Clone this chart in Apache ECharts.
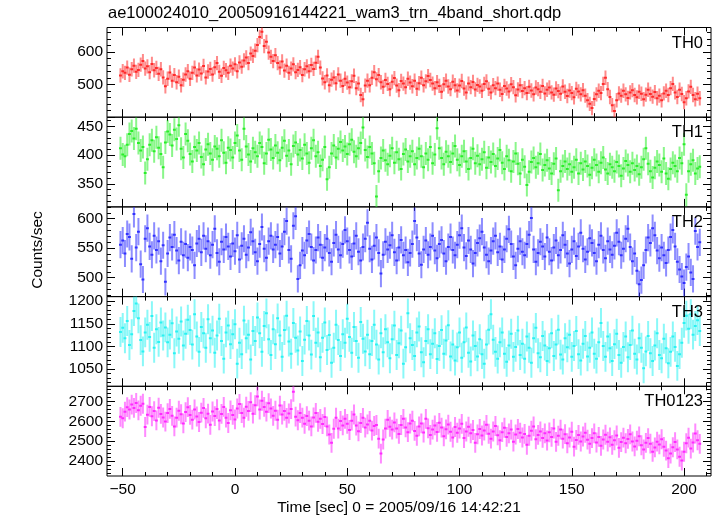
<!DOCTYPE html>
<html>
<head>
<meta charset="utf-8">
<script src="https://cdn.jsdelivr.net/npm/echarts@6/dist/echarts.min.js"></script>
<style>html,body{margin:0;padding:0;background:#fff}#c{width:717px;height:516px}</style>
</head>
<body>
<div id="c"></div>
<script>
// ---- data ----
const titleText = 'ae100024010_20050916144221_wam3_trn_4band_short.qdp';
const xTitle = 'Time [sec] 0 = 2005/09/16 14:42:21';
const yTitle = 'Counts/sec';
const panelNames = ['TH0', 'TH1', 'TH2', 'TH3', 'TH0123'];
const binStart = -51;   // time of first bin centre (s)
const binWidth = 1;     // bin width (s)
const xTicks = [-50, 0, 50, 100, 150, 200];
const xMinorTicks = [-50,-40,-30,-20,-10,0,10,20,30,40,50,60,70,80,90,100,110,120,130,140,150,160,170,180,190,200,210];
const yTicksTH0 = [400, 500, 600];
const yTicksTH1 = [350, 400, 450];
const yTicksTH2 = [500, 550, 600];
const yTicksTH3 = [1050, 1100, 1150, 1200];
const yTicksTH0123 = [2400, 2500, 2600, 2700];
const errTH = [22, 20, 23, 33, 50];

const th0 = [
528,541,536,552,530,547,558,539,545,561,
572,549,556,538,563,544,551,533,547,522,
495,518,537,512,529,507,524,498,515,531,
541,518,536,552,528,546,534,557,522,540,
548,531,553,566,539,527,551,544,536,558,
549,562,541,568,555,574,583,566,595,588,
604,621,646,662,618,631,598,585,572,590,
566,552,571,543,558,536,549,562,538,545,
553,529,547,556,541,560,548,567,585,552,
519,507,528,498,515,522,504,531,512,496,
518,506,492,510,527,489,503,468,455,497,
512,498,521,538,516,529,507,493,514,502,
486,509,520,497,483,511,503,492,518,506,
495,512,487,504,521,498,510,526,514,503,
489,507,496,478,501,512,494,486,509,498,
482,497,511,488,476,503,492,508,485,499,
494,481,502,510,487,476,498,489,503,484,
471,496,488,479,501,492,467,485,498,480,
489,474,493,482,470,491,486,478,496,473,
484,491,476,469,488,480,472,494,478,465,
482,474,461,487,479,470,483,466,452,441,
428,456,470,481,474,502,521,486,462,437,
419,452,473,466,481,470,459,476,483,468,
461,478,472,455,469,484,471,463,477,458,
466,452,473,481,468,489,502,476,462,484,
471,446,458,479,493,468,455,472,458];

const th1 = [
412,401,398,418,437,442,429,446,421,408,
414,369,393,418,426,407,431,413,402,379,
422,441,436,417,444,428,452,411,396,437,
425,402,389,414,408,421,397,384,410,419,
403,392,415,411,398,426,404,387,413,409,
396,421,434,408,392,446,415,401,389,412,
405,398,421,414,386,403,427,410,395,417,
404,391,413,425,399,408,384,416,422,401,
409,394,418,403,387,412,426,398,405,381,
392,414,358,379,403,417,396,411,423,408,
415,402,419,427,406,398,412,421,448,409,
397,414,403,386,328,372,395,408,391,384,
399,412,387,405,393,376,402,410,389,398,
407,384,395,411,398,379,403,392,414,386,
401,447,412,395,384,406,398,388,403,416,
392,383,398,407,389,376,395,411,386,399,
384,393,405,378,396,388,402,381,394,409,
387,376,398,391,372,389,403,385,368,392,
380,348,371,388,395,379,386,402,374,383,
391,377,368,385,394,339,372,381,389,376,
384,371,379,392,368,386,375,389,381,366,
378,392,383,371,387,396,375,368,384,379,
372,388,381,364,377,390,383,371,386,374,
381,367,379,393,412,385,372,361,378,389,
383,371,394,368,359,376,387,381,372,395,
386,419,331,372,384,391,368,377,380];

const th2 = [
556,563,541,574,569,532,608,551,578,523,
497,566,584,553,539,571,547,562,528,555,
493,541,568,552,573,546,529,561,538,557,
534,552,547,521,558,566,543,571,549,562,
538,556,583,542,527,561,548,569,553,536,
558,545,572,531,554,566,539,551,577,562,
543,528,557,586,549,534,562,571,548,556,
569,541,553,578,596,547,532,588,604,498,
521,546,538,563,574,552,529,547,568,556,
534,551,566,542,527,559,573,548,538,557,
581,562,547,536,558,571,544,529,552,566,
593,549,531,554,568,542,507,539,561,548,
555,572,543,529,551,564,538,547,526,542,
557,596,568,541,522,548,563,539,552,571,
546,533,557,564,541,528,552,569,547,538,
556,572,584,551,537,563,548,524,542,559,
567,578,551,539,528,546,562,571,543,553,
531,548,566,582,557,536,521,549,562,544,
538,557,573,601,548,527,542,561,553,536,
568,544,529,551,563,538,547,572,556,541,
524,548,562,537,553,576,549,531,544,567,
559,542,528,556,571,547,533,562,548,539,
554,576,561,538,549,566,583,552,528,541,
512,489,496,521,547,568,559,584,572,546,
533,551,538,525,547,569,581,553,527,514,
502,491,518,536,509,498,579,552,560];

const th3 = [
1132,1141,1118,1156,1103,1127,1178,1195,1162,1114,
1089,1131,1148,1121,1167,1097,1138,1110,1153,1124,
1142,1109,1126,1151,1085,1133,1117,1155,1102,1128,
1159,1136,1104,1171,1122,1088,1143,1129,1097,1160,
1118,1135,1086,1124,1161,1112,1073,1131,1146,1105,
1127,1149,1062,1108,1083,1157,1118,1126,1071,1134,
1112,1164,1129,1088,1145,1173,1116,1081,1138,1105,
1162,1124,1077,1136,1168,1111,1084,1152,1119,1091,
1133,1068,1115,1156,1124,1082,1167,1108,1131,1076,
1119,1153,1092,1125,1064,1097,1148,1114,1079,1127,
1108,1161,1121,1086,1143,1112,1075,1154,1117,1089,
1126,1083,1112,1148,1104,1071,1129,1087,1138,1109,
1074,1116,1146,1081,1107,1135,1062,1098,1173,1118,
1103,1079,1131,1144,1087,1065,1112,1138,1083,1106,
1129,1072,1101,1136,1084,1113,1147,1078,1104,1069,
1098,1131,1075,1109,1142,1086,1067,1124,1101,1078,
1116,1083,1062,1104,1137,1171,1115,1088,1073,1109,
1131,1084,1066,1102,1128,1077,1099,1135,1081,1106,
1073,1122,1097,1064,1118,1141,1085,1076,1123,1102,
1068,1096,1129,1079,1104,1137,1082,1071,1118,1098,
1126,1077,1101,1134,1083,1069,1106,1123,1078,1097,
1131,1084,1073,1109,1152,1101,1077,1122,1096,1068,
1105,1128,1081,1064,1099,1122,1076,1103,1135,1084,
1071,1118,1097,1052,1089,1123,1085,1068,1102,1129,
1081,1074,1117,1096,1063,1088,1122,1099,1057,1083,
1108,1152,1168,1139,1171,1126,1145,1158,1134];

const th0123 = [
2622,2615,2648,2671,2659,2684,2667,2692,2655,2678,
2688,2571,2633,2672,2625,2651,2604,2668,2637,2619,
2598,2641,2662,2627,2574,2618,2653,2635,2589,2646,
2671,2632,2608,2659,2624,2596,2643,2667,2615,2638,
2582,2649,2626,2661,2604,2637,2672,2618,2591,2655,
2632,2609,2664,2687,2641,2618,2673,2652,2696,2638,
2681,2725,2659,2703,2672,2648,2691,2664,2627,2653,
2608,2679,2634,2652,2617,2639,2661,2748,2623,2605,
2641,2618,2587,2626,2603,2574,2619,2642,2597,2612,
2586,2621,2574,2533,2491,2562,2618,2563,2601,2579,
2612,2587,2556,2603,2634,2578,2549,2591,2617,2568,
2584,2602,2553,2576,2581,2512,2437,2508,2563,2607,
2572,2558,2594,2563,2536,2581,2612,2569,2545,2588,
2603,2551,2527,2574,2589,2543,2612,2564,2531,2558,
2579,2546,2592,2568,2524,2559,2583,2547,2518,2571,
2542,2563,2587,2515,2548,2572,2539,2556,2491,2534,
2561,2528,2553,2582,2537,2512,2548,2576,2529,2504,
2545,2567,2521,2539,2558,2497,2533,2561,2542,2518,
2536,2481,2527,2552,2574,2509,2531,2548,2516,2539,
2503,2544,2521,2563,2496,2527,2558,2512,2535,2489,
2518,2547,2472,2506,2531,2498,2523,2542,2507,2486,
2515,2539,2493,2521,2476,2508,2532,2497,2519,2481,
2504,2528,2466,2495,2517,2489,2511,2534,2498,2473,
2502,2524,2479,2458,2491,2515,2487,2446,2468,2497,
2483,2509,2471,2452,2414,2437,2469,2495,2458,2421,
2402,2446,2489,2517,2462,2493,2538,2504,2486];

// ---- layout / style ----
const panels = [
  {vals: th0,    ticks: yTicksTH0,    min: 400,  max: 675,  minorStep: 20, color: '#ff2a2a'},
  {vals: th1,    ticks: yTicksTH1,    min: 310,  max: 466,  minorStep: 10, color: '#2aee2a'},
  {vals: th2,    ticks: yTicksTH2,    min: 468,  max: 620,  minorStep: 10, color: '#3030ff'},
  {vals: th3,    ticks: yTicksTH3,    min: 1012, max: 1210, minorStep: 10, color: '#2af2f2'},
  {vals: th0123, ticks: yTicksTH0123, min: 2324, max: 2776, minorStep: 20, color: '#ff2aff'}
];
const FONT = '"Liberation Sans", Arial, Helvetica, sans-serif';
const gridLeft = 107, gridRight = 6, gridTop0 = 27.5, gridH = 89.7;
const xMin = -57, xMax = 212;

function range(a, b, s) { const r = []; for (let v = a; v <= b + 1e-9; v += s) r.push(v); return r; }

const grids = [], xAxes = [], yAxes = [], series = [], titles = [];
panels.forEach((p, i) => {
  grids.push({left: gridLeft, right: gridRight, top: gridTop0 + i * gridH, height: gridH,
    show: true, borderColor: '#000', borderWidth: 1, backgroundColor: 'transparent'});
  const xBase = {gridIndex: i, type: 'value', min: xMin, max: xMax,
    axisLine: {show: false, onZero: false}, splitLine: {show: false}};
  const isLast = i === panels.length - 1;
  xAxes.push(Object.assign({}, xBase, {position: 'bottom',
    axisTick: {inside: true, length: 8, customValues: xTicks, lineStyle: {color: '#000'}},
    axisLabel: {show: isLast, customValues: xTicks, margin: 6, fontSize: 15.5, color: '#000', fontFamily: FONT,
      formatter: v => (v < 0 ? '\u2212' + Math.abs(v) : String(v))}}));
  xAxes.push(Object.assign({}, xBase, {position: 'top',
    axisTick: {inside: true, length: 8, customValues: xTicks, lineStyle: {color: '#000'}},
    axisLabel: {show: false}}));
  xAxes.push(Object.assign({}, xBase, {position: 'bottom',
    axisTick: {inside: true, length: 4, customValues: xMinorTicks, lineStyle: {color: '#000'}},
    axisLabel: {show: false}}));
  xAxes.push(Object.assign({}, xBase, {position: 'top',
    axisTick: {inside: true, length: 4, customValues: xMinorTicks, lineStyle: {color: '#000'}},
    axisLabel: {show: false}}));

  const minor = range(Math.ceil(p.min / p.minorStep) * p.minorStep, p.max, p.minorStep);
  const yBase = {gridIndex: i, type: 'value', min: p.min, max: p.max,
    axisLine: {show: false, onZero: false}, splitLine: {show: false}};
  // the label at an axis' very min is skipped here so the next panel's top label is not hidden
  const labelVals = p.ticks.filter(v => v > p.min);
  yAxes.push(Object.assign({}, yBase, {position: 'left',
    axisTick: {inside: true, length: 8, customValues: p.ticks, lineStyle: {color: '#000'}},
    axisLabel: {customValues: labelVals, margin: 4, fontSize: 15.5, color: '#000', fontFamily: FONT,
      hideOverlap: false, showMinLabel: true, showMaxLabel: true, formatter: v => String(v)}}));
  yAxes.push(Object.assign({}, yBase, {position: 'right',
    axisTick: {inside: true, length: 8, customValues: p.ticks, lineStyle: {color: '#000'}},
    axisLabel: {show: false}}));
  yAxes.push(Object.assign({}, yBase, {position: 'left',
    axisTick: {inside: true, length: 4, customValues: minor, lineStyle: {color: '#000'}},
    axisLabel: {show: false}}));
  yAxes.push(Object.assign({}, yBase, {position: 'right',
    axisTick: {inside: true, length: 4, customValues: minor, lineStyle: {color: '#000'}},
    axisLabel: {show: false}}));

  const data = p.vals.map((v, k) => [binStart + k * binWidth, v]);
  const err = errTH[i];
  const col = p.color;
  series.push({
    type: 'custom', xAxisIndex: i * 4, yAxisIndex: i * 4, clip: true, silent: true,
    data: data,
    renderItem: function (params, api) {
      const t = api.value(0), v = api.value(1);
      const c = api.coord([t, v]);
      const l = api.coord([t - binWidth / 2, v]);
      const r = api.coord([t + binWidth / 2, v]);
      const hi = api.coord([t, v + err]);
      const lo = api.coord([t, v - err]);
      return {type: 'group', children: [
        {type: 'line', shape: {x1: c[0], y1: hi[1], x2: c[0], y2: lo[1]},
          style: {stroke: col, lineWidth: 2, opacity: 0.55}},
        {type: 'line', shape: {x1: l[0] - 0.3, y1: c[1], x2: r[0] + 0.3, y2: c[1]},
          style: {stroke: col, lineWidth: 2}}
      ]};
    }
  });
  titles.push({text: panelNames[i], right: 9, top: gridTop0 + i * gridH + 2,
    textStyle: {fontSize: 16.5, fontWeight: 'normal', color: '#000', fontFamily: FONT}});
});

const chart = echarts.init(document.getElementById('c'), null, {renderer: 'canvas'});
chart.setOption({
  animation: false,
  backgroundColor: '#fff',
  title: titles,
  grid: grids,
  xAxis: xAxes,
  yAxis: yAxes,
  series: series,
  graphic: [
    {type: 'text', left: 108, top: 5, style: {text: titleText, fontSize: 16.5, fill: '#000', fontFamily: FONT}},
    {type: 'text', x: 399, y: 508, style: {text: xTitle, fontSize: 15.5, fill: '#000', fontFamily: FONT,
      align: 'center', verticalAlign: 'middle'}},
    {type: 'text', x: 38, y: 250, rotation: Math.PI / 2, style: {text: yTitle, fontSize: 15.5, fill: '#000',
      fontFamily: FONT, align: 'center', verticalAlign: 'middle'}}
  ]
});
</script>
</body>
</html>
